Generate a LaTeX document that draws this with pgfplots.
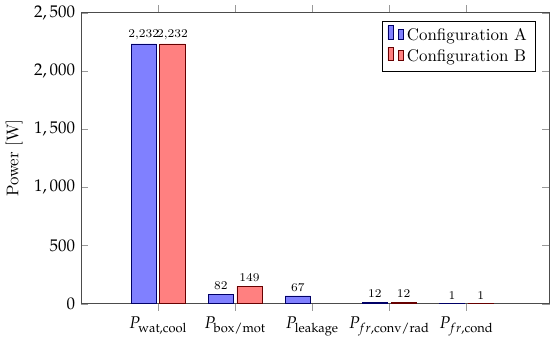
\documentclass[border=0pt]{standalone}
\usepackage{mathpazo}
\usepackage{pgfplots}
\pgfplotsset{compat=1.18}
\begin{document}
\begin{tikzpicture}
\begin{axis}[
  scale only axis,
  width=277pt, height=172pt,
  ybar=2pt,
  bar width=15pt,
  ymin=0, ymax=2500,
  xmin=-1, xmax=5.08,
  xtick={0,1,2,3,4},
  xticklabels={$P_{\mathrm{wat,cool}}$,$P_{\mathrm{box/mot}}$,$P_{\mathrm{leakage}}$,$P_{fr,\mathrm{conv/rad}}$,$P_{fr,\mathrm{cond}}$},
  ytick={0,500,1000,1500,2000,2500},
  scaled y ticks=false,
  yticklabel style={/pgf/number format/.cd,fixed,1000 sep={{,}}},
  ylabel={Power [W]},
  nodes near coords,
  every node near coord/.append style={font=\scriptsize,inner xsep=0.5pt,inner ysep=2.5pt,/pgf/number format/.cd,fixed,assume math mode=true,1000 sep={,}},
  legend style={at={(0.97,0.97)},anchor=north east,draw=black,font=\normalsize},
  legend cell align=left,
  tick style={color=black!40},
  axis line style={color=black!70},
]
\addplot[draw=blue!40!black,fill=blue!50] coordinates {(0,2232) (1,82) (2,67) (3,12) (4,1)};
\addplot[draw=red!40!black,fill=red!50] coordinates {(0,2232) (1,149) (3,12) (4,1)};
\legend{Configuration A,Configuration B}
\end{axis}
\end{tikzpicture}
\end{document}
